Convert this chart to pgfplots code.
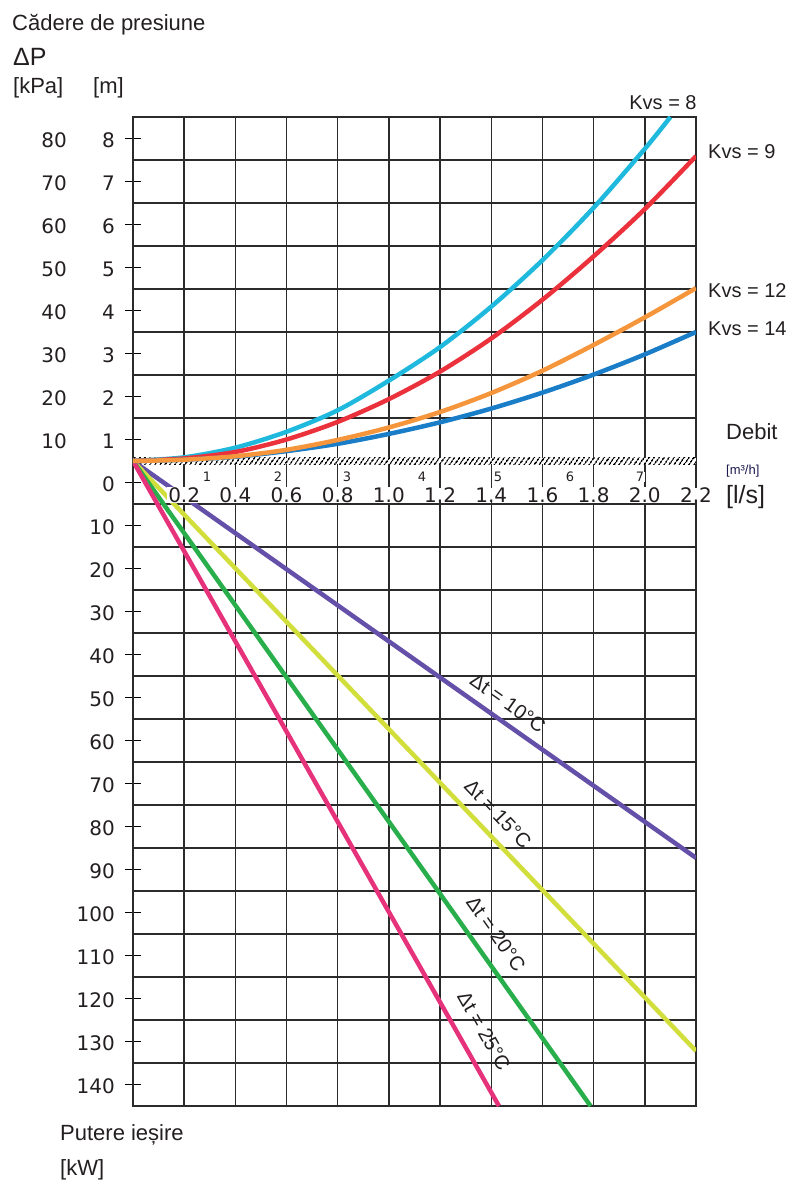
\documentclass[border=0pt]{standalone}
\usepackage{pgfplots}
\pgfplotsset{compat=1.18}
\usepackage{fontspec}
\setmainfont{Liberation Sans}
\newfontfamily\numfont{DejaVu Sans}
\usetikzlibrary{patterns.meta}
\definecolor{gridc}{HTML}{2B2B2B}
\definecolor{txtc}{HTML}{231F20}
\definecolor{cCyan}{HTML}{1EB9DC}
\definecolor{cRed}{HTML}{EB323C}
\definecolor{cOrange}{HTML}{F5963C}
\definecolor{cBlue}{HTML}{197DC8}
\definecolor{cPurple}{HTML}{6450A8}
\definecolor{cYellow}{HTML}{D2DE3C}
\definecolor{cGreen}{HTML}{28AF4B}
\definecolor{cPink}{HTML}{E6327A}
\newcommand\txt{\fontsize{22}{26}\selectfont}
\newcommand\num{\numfont\fontsize{20}{24}\selectfont}
\newcommand\snum{\numfont\fontsize{13}{15}\selectfont}
\begin{document}
\begin{tikzpicture}
\begin{axis}[
  at={(0pt,0pt)}, anchor=south west,
  scale only axis, width=563pt, height=989pt,
  xmin=0, xmax=2.2, ymin=-14.5, ymax=8.5,
  xtick={0,0.2,0.4,0.6,0.8,1.0,1.2,1.4,1.6,1.8,2.0,2.2},
  ytick={-14,-13,...,8},
  minor ytick={-14.5,-13.5,...,8.5},
  xticklabels={}, yticklabels={},
  xmajorgrids=true, ymajorgrids=false, yminorgrids=true,
  major grid style={draw=gridc, line width=1.5pt},
  minor grid style={draw=gridc, line width=1.5pt},
  axis line style={draw=gridc, line width=1.5pt},
  xtick style={draw=none},
  ytick style={draw=black, line width=1.2pt},
  major tick length=15pt, minor tick length=0pt,
  tick align=center,
  ytick pos=left,
]
\fill[white] (axis cs:0,0.43) rectangle (axis cs:2.2,0.57);
\fill[pattern={Lines[angle=55,distance=4pt,line width=1.7pt]}, pattern color=black] (axis cs:0,0.43) rectangle (axis cs:2.2,0.57);
% power lines (lower part)
\addplot[cPurple, line width=4.5pt] coordinates {(0,0.5) (2.2,-8.73)};
\addplot[cYellow, line width=4.5pt] coordinates {(0,0.5) (2.2,-13.22)};
\addplot[cGreen, line width=4.5pt] coordinates {(0,0.5) (1.788,-14.5)};
\addplot[cPink, line width=4.5pt] coordinates {(0,0.5) (1.43,-14.5)};
% pressure drop curves (upper part)
\addplot[cCyan, line width=4.5pt, smooth] coordinates {(0,0.5) (0.2,0.585) (0.4,0.81) (0.6,1.18) (0.8,1.68) (1.0,2.37) (1.2,3.15) (1.4,4.09) (1.6,5.17) (1.8,6.39) (2.0,7.76) (2.1,8.5)};
\addplot[cRed, line width=4.5pt, smooth] coordinates {(0,0.5) (0.2,0.56) (0.4,0.71) (0.6,1.0) (0.8,1.41) (1.0,1.94) (1.2,2.58) (1.4,3.35) (1.6,4.25) (1.8,5.26) (2.0,6.36) (2.2,7.59)};
\addplot[cBlue, line width=4.5pt, smooth] coordinates {(0,0.5) (0.2,0.53) (0.4,0.60) (0.6,0.73) (0.8,0.90) (1.0,1.13) (1.2,1.40) (1.4,1.72) (1.6,2.09) (1.8,2.51) (2.0,2.98) (2.2,3.5)};
\addplot[cOrange, line width=4.5pt, smooth] coordinates {(0,0.5) (0.2,0.53) (0.4,0.61) (0.6,0.76) (0.8,0.99) (1.0,1.28) (1.2,1.64) (1.4,2.08) (1.6,2.6) (1.8,3.2) (2.0,3.84) (2.2,4.52)};
\end{axis}
% header texts
\node[anchor=west, inner sep=0pt, font=\txt, text=txtc] at (-121pt,1081pt) {Cădere de presiune};
\node[anchor=west, inner sep=0pt, font=\fontsize{25}{28}\selectfont, text=txtc] at (-120pt,1049pt) {ΔP};
\node[anchor=west, inner sep=0pt, font=\txt, text=txtc] at (-120pt,1018pt) {[kPa]};
\node[anchor=west, inner sep=0pt, font=\txt, text=txtc] at (-40pt,1018pt) {[m]};
% left column kPa
\foreach \u/\t in {8/80,7/70,6/60,5/50,4/40,3/30,2/20,1/10}
  \node[anchor=east, inner sep=0pt, font=\num, text=txtc] at (-66pt,{(43*(\u+14.5)-2)*1pt}) {\t};
% right column m / kW
\foreach \u/\t in {8/8,7/7,6/6,5/5,4/4,3/3,2/2,1/1,0/0,-1/10,-2/20,-3/30,-4/40,-5/50,-6/60,-7/70,-8/80,-9/90,-10/100,-11/110,-12/120,-13/130,-14/140}
  \node[anchor=east, inner sep=0pt, font=\num, text=txtc] at (-18pt,{(43*(\u+14.5)-2)*1pt}) {\t};
% x tick labels l/s
\foreach \k/\t in {1/0.2,2/0.4,3/0.6,4/0.8,5/1.0,6/1.2,7/1.4,8/1.6,9/1.8,10/2.0,11/2.2}
  \node[anchor=center, inner xsep=1.5pt, inner ysep=0pt, fill=white, font=\num, text=txtc] at ({51.18*\k*1pt},611pt) {\t};
% m3/h labels
\foreach \X/\t in {74/1,145/2,214/3,289/4,365/5,437/6,507/7}
  \node[anchor=center, inner sep=0.5pt, fill=white, font=\snum, text=txtc] at ({\X*1pt},629pt) {\t};
% right texts
\node[anchor=west, inner sep=0pt, font=\txt, text=txtc] at (593pt,674pt) {Debit};
\node[anchor=west, inner sep=0pt, font=\fontsize{13}{15}\selectfont, text=txtc!80!blue] at (593pt,635pt) {[m³/h]};
\node[anchor=west, inner sep=0pt, font=\fontsize{25}{28}\selectfont, text=txtc] at (593pt,609pt) {[l/s]};
% Kvs labels
\node[anchor=center, inner sep=0pt, font=\fontsize{20}{24}\selectfont, text=txtc] at (530pt,1003pt) {Kvs = 8};
\node[anchor=west, inner sep=0pt, font=\fontsize{20}{24}\selectfont, text=txtc] at (575pt,954pt) {Kvs = 9};
\node[anchor=west, inner sep=0pt, font=\fontsize{20}{24}\selectfont, text=txtc] at (575pt,815pt) {Kvs = 12};
\node[anchor=west, inner sep=0pt, font=\fontsize{20}{24}\selectfont, text=txtc] at (575pt,777pt) {Kvs = 14};
% Delta t labels
\node[anchor=center, inner sep=0pt, rotate=-35.1, font=\fontsize{20}{24}\selectfont, text=txtc] at (375pt,403pt) {Δt = 10°C};
\node[anchor=center, inner sep=0pt, rotate=-46.3, font=\fontsize{20}{24}\selectfont, text=txtc] at (365pt,292pt) {Δt = 15°C};
\node[anchor=center, inner sep=0pt, rotate=-54.6, font=\fontsize{20}{24}\selectfont, text=txtc] at (363pt,172pt) {Δt = 20°C};
\node[anchor=center, inner sep=0pt, rotate=-60.4, font=\fontsize{20}{24}\selectfont, text=txtc] at (351pt,75pt) {Δt = 25°C};
% bottom texts
\node[anchor=west, inner sep=0pt, font=\txt, text=txtc] at (-73pt,-29pt) {Putere ieșire};
\node[anchor=west, inner sep=0pt, font=\txt, text=txtc] at (-73pt,-64pt) {[kW]};
\pgfresetboundingbox
\path[use as bounding box] (-133pt,-77pt) rectangle (662pt,1106pt);
\end{tikzpicture}
\end{document}
